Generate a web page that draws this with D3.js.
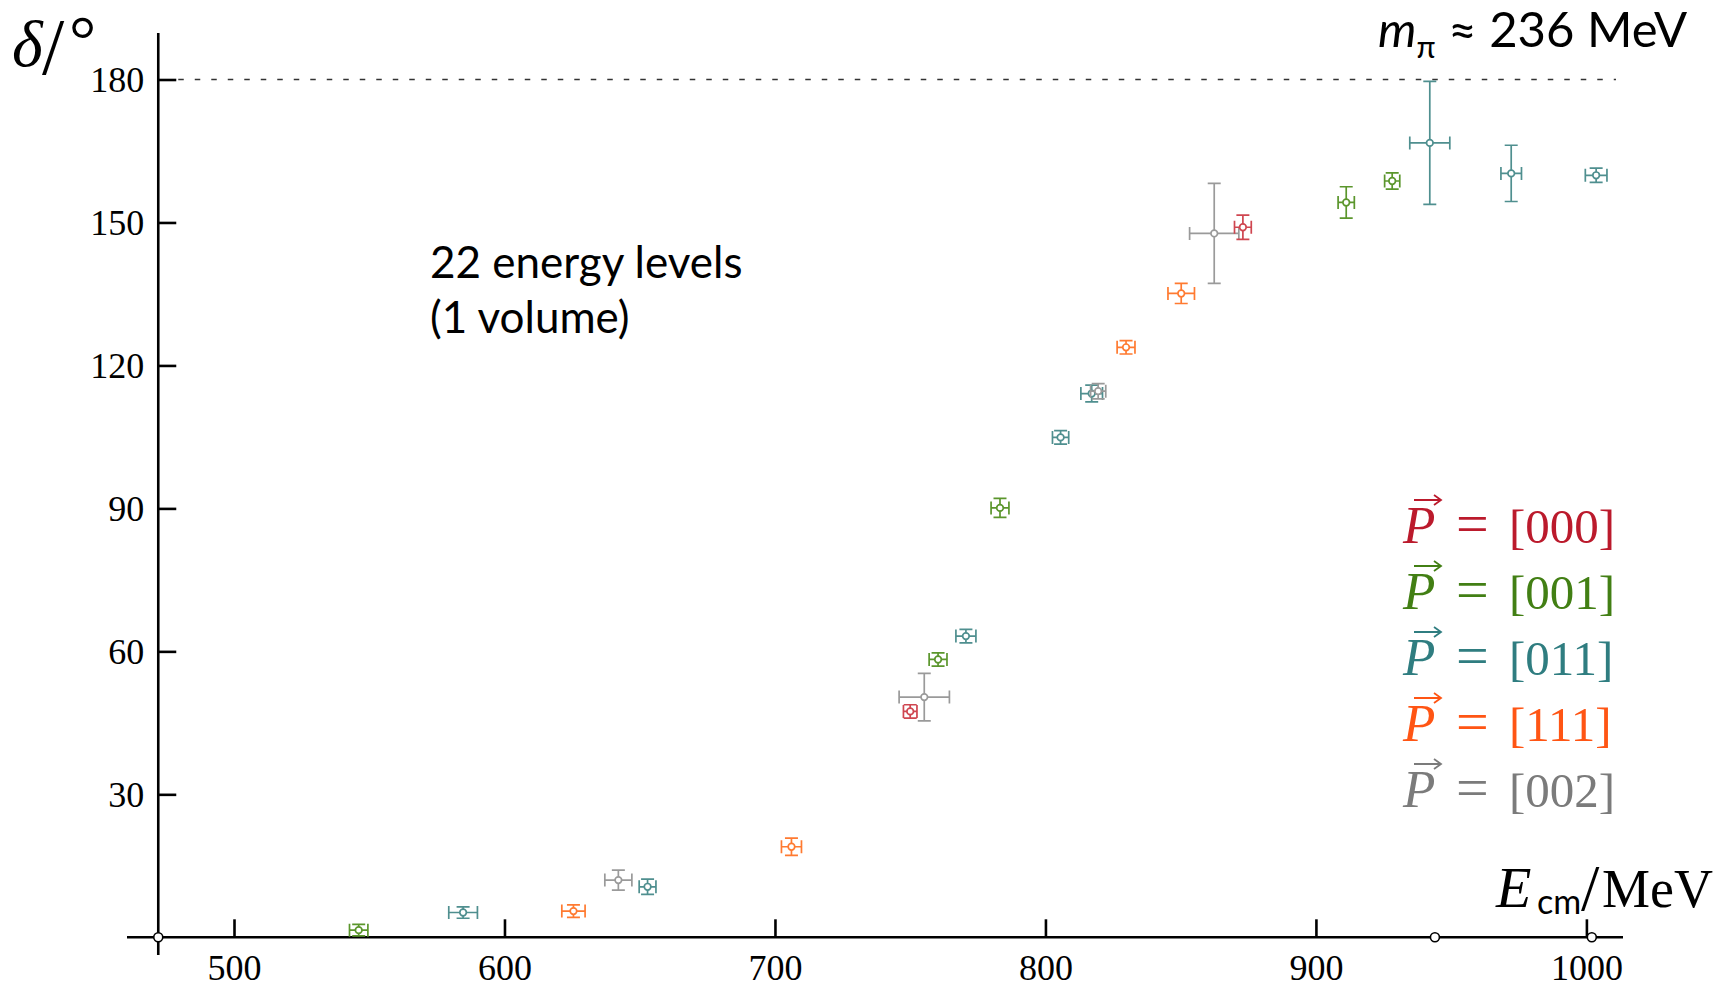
<!DOCTYPE html>
<html><head><meta charset="utf-8">
<script src="https://cdn.jsdelivr.net/npm/d3@7/dist/d3.min.js"></script>
<style>html,body{margin:0;padding:0;background:#fff;overflow:hidden}</style>
</head><body>
<svg id="chart" width="1731" height="989"></svg>
<script>
// ---------- data ----------
const frames = ["000", "001", "011", "111", "002"];
const pointFrame = ["001","011","111","002","011","111","000","002","001","011","001","011","011","002","111","111","002","000","001","001","011","011","011"];
const energy    = [546.1, 584.7, 625.5, 642.1, 652.9, 706.1, 750.0, 755.2, 760.3, 770.6, 783.2, 805.6, 817.1, 819.5, 829.8, 850.2, 862.4, 873.0, 911.2, 928.2, 942.1, 972.2, 1003.6];
const energyErr = [3.4, 5.3, 4.3, 5.0, 3.1, 3.7, 2.5, 9.3, 3.3, 3.7, 3.3, 3.0, 4.0, 2.8, 3.3, 4.9, 9.1, 3.1, 3.0, 2.8, 7.4, 3.8, 4.0];
const phase     = [1.5, 5.2, 5.5, 12.0, 10.6, 19.0, 47.4, 50.4, 58.3, 63.2, 90.1, 104.9, 114.1, 114.6, 123.8, 135.1, 147.7, 149.0, 154.2, 158.7, 166.7, 160.3, 159.9];
const phaseErr  = [1.2, 1.2, 1.3, 2.1, 1.6, 1.8, 1.4, 5.0, 1.4, 1.4, 2.0, 1.4, 1.75, 1.6, 1.4, 2.1, 10.5, 2.55, 3.3, 1.7, 12.9, 5.9, 1.5];
const xTicks = [500, 600, 700, 800, 900, 1000];
const yTicks = [30, 60, 90, 120, 150, 180];
const thresholds = [472, 944, 1002];
const refPhase = 180;
// styles
const markColor = {"000": "#cf4650", "001": "#5b962c", "011": "#4f8f8f", "111": "#ff7a30", "002": "#9a9a9a"};
const legendColor = {"000": "#bb1a2c", "001": "#427f14", "011": "#2f7d80", "111": "#ff5514", "002": "#7b7b7b"};

// ---------- scales ----------
const svg = d3.select("#chart");
const x = d3.scaleLinear().domain([500, 1000]).range([234, 1586.4]);
const y = d3.scaleLinear().domain([0, 180]).range([937.3, 79.5]);
const x0 = x(472), y0 = y(0);

// reference dashed line
svg.append("line")
  .attr("x1", x0 + 20).attr("x2", 1616)
  .attr("y1", y(refPhase)).attr("y2", y(refPhase))
  .attr("stroke", "#333").attr("stroke-width", 1.3)
  .attr("stroke-dasharray", "5.5,11");

// axes
const xAxis = d3.axisBottom(x).tickValues(xTicks).tickSize(-18).tickPadding(0).tickFormat(d3.format("d"));
const gx = svg.append("g").attr("transform", `translate(0,${y0})`).call(xAxis);
gx.select(".domain").remove();
gx.selectAll(".tick line").attr("stroke", "#000").attr("stroke-width", 2.6);
gx.selectAll(".tick text").attr("font-family", "'Liberation Serif', 'Times New Roman', serif")
  .attr("font-size", 36).attr("fill", "#000").attr("dy", null).attr("y", 43);

const yAxis = d3.axisLeft(y).tickValues(yTicks).tickSize(-18).tickPadding(14).tickFormat(d3.format("d"));
const gy = svg.append("g").attr("transform", `translate(${x0},0)`).call(yAxis);
gy.select(".domain").remove();
gy.selectAll(".tick line").attr("stroke", "#000").attr("stroke-width", 2.6);
gy.selectAll(".tick text").attr("font-family", "'Liberation Serif', 'Times New Roman', serif")
  .attr("font-size", 36).attr("fill", "#000").attr("dy", "0.33em");

svg.append("line").attr("x1", 127).attr("x2", 1623).attr("y1", y0).attr("y2", y0)
  .attr("stroke", "#000").attr("stroke-width", 2.6);
svg.append("line").attr("x1", x0).attr("x2", x0).attr("y1", 33).attr("y2", 955)
  .attr("stroke", "#000").attr("stroke-width", 2.6);

// threshold circles
svg.selectAll("circle.thr").data(thresholds).join("circle").attr("class", "thr")
  .attr("cx", d => x(d)).attr("cy", y0).attr("r", 4.5)
  .attr("fill", "#fff").attr("stroke", "#000").attr("stroke-width", 1.6);

// points
const pts = energy.map((e, i) => ({e, de: energyErr[i], p: phase[i], dp: phaseErr[i], f: pointFrame[i]}));
const cap = 6.5;
const g = svg.append("g");
pts.forEach(d => {
  const c = markColor[d.f];
  const cx = x(d.e), cy = y(d.p);
  const xl = x(d.e - d.de), xr = x(d.e + d.de);
  const yt = y(d.p + d.dp), yb = y(d.p - d.dp);
  const path = d3.path();
  path.moveTo(xl, cy); path.lineTo(xr, cy);
  path.moveTo(xl, cy - cap); path.lineTo(xl, cy + cap);
  path.moveTo(xr, cy - cap); path.lineTo(xr, cy + cap);
  path.moveTo(cx, yt); path.lineTo(cx, yb);
  path.moveTo(cx - cap, yt); path.lineTo(cx + cap, yt);
  path.moveTo(cx - cap, yb); path.lineTo(cx + cap, yb);
  g.append("path").attr("d", path.toString()).attr("fill", "none")
    .attr("stroke", c).attr("stroke-width", 1.7);
  g.append("circle").attr("cx", cx).attr("cy", cy).attr("r", 3.3)
    .attr("fill", "#fff").attr("stroke", c).attr("stroke-width", 1.7);
});

// axis titles
const serif = "'Liberation Serif', 'Times New Roman', serif";
const yl = svg.append("text").attr("font-family", serif).attr("fill", "#000");
yl.append("tspan").attr("x", 12).attr("y", 66).attr("font-size", 66).attr("font-style", "italic").text("δ");
yl.append("tspan").attr("x", 42).attr("y", 74).attr("font-size", 80).text("/");
yl.append("tspan").attr("x", 69).attr("y", 63).attr("font-size", 68).text("°");

const xl2 = svg.append("text").attr("font-family", serif).attr("fill", "#000");
xl2.append("tspan").attr("x", 1496).attr("y", 907).attr("font-size", 58).attr("font-style", "italic").text("E");
xl2.append("tspan").attr("x", 1537).attr("y", 914).attr("font-size", 34).attr("font-family", "Lato, sans-serif").text("cm");
xl2.append("tspan").attr("x", 1581).attr("y", 910).attr("font-size", 66).text("/");
xl2.append("tspan").attr("x", 1602).attr("y", 907).attr("font-size", 54).text("MeV");

// annotations
const sans = "Lato, 'Open Sans', sans-serif";
const mt = svg.append("text").attr("font-family", sans).attr("fill", "#000").attr("font-size", 49);
mt.append("tspan").attr("x", 1378).attr("y", 47).attr("font-style", "italic").text("m");
mt.append("tspan").attr("dy", 11).attr("font-size", 31).text("π");
mt.append("tspan").attr("dy", -11).text(" ≈ 236 MeV");

svg.append("text").attr("font-family", sans).attr("font-size", 44).attr("fill", "#000")
  .attr("x", 430).attr("y", 278).text("22 energy levels");
svg.append("text").attr("font-family", sans).attr("font-size", 44).attr("fill", "#000")
  .attr("x", 430).attr("y", 333).text("(1 volume)");

// legend
frames.forEach((f, i) => {
  const by = 543 + i * 66;
  const col = legendColor[f];
  const lg = svg.append("g");
  lg.append("text").attr("x", 1403).attr("y", by).attr("font-family", serif)
    .attr("font-style", "italic").attr("font-size", 53).attr("fill", col).text("P");
  const ap = d3.path();
  ap.moveTo(1414, by - 43); ap.lineTo(1440, by - 43);
  ap.moveTo(1434, by - 48); ap.lineTo(1441, by - 43); ap.lineTo(1434, by - 38);
  lg.append("path").attr("d", ap.toString()).attr("fill", "none").attr("stroke", col).attr("stroke-width", 1.8);
  lg.append("text").attr("x", 1456).attr("y", by).attr("font-family", serif)
    .attr("font-size", 58).attr("fill", col).attr("textLength", 37).text("=");
  lg.append("text").attr("x", 1509).attr("y", by).attr("font-family", serif)
    .attr("font-size", 49).attr("fill", col).text(`[${f}]`);
});
</script>
</body></html>
